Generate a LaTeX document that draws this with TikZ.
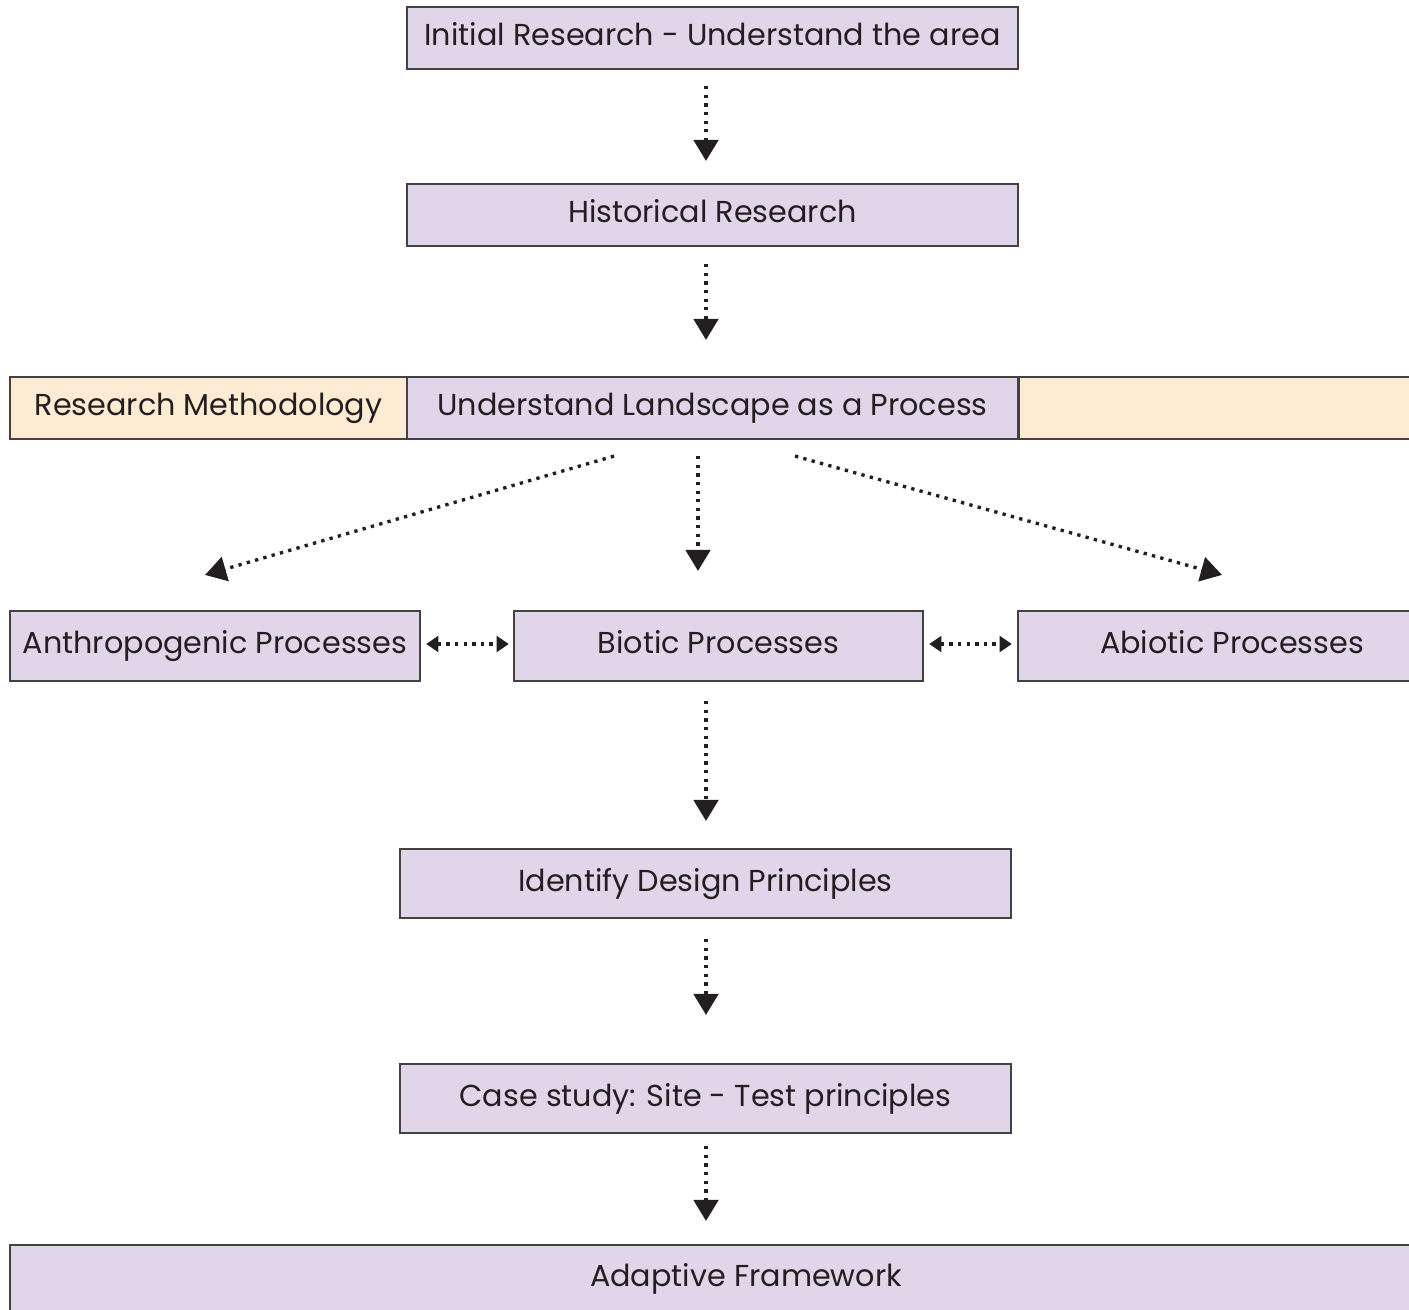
\documentclass[tikz,border=0pt]{standalone}
\usepackage{fontspec}
\setmainfont{Poppins}
\usetikzlibrary{arrows.meta,calc}
\definecolor{lilac}{RGB}{224,213,233}
\definecolor{sand}{RGB}{253,235,211}
\definecolor{ink}{RGB}{35,31,32}

\begin{document}
\begin{tikzpicture}[x=0.01cm,y=-0.01cm,
    box/.style={draw=ink!85, line width=0.6pt, fill=lilac, text=ink,
        minimum width=6.11cm, minimum height=0.62cm, inner sep=0pt,
        text height=0.45em, text depth=0pt,
        font=\fontsize{8.6}{11}\selectfont},
    side/.style={box, fill=sand},
    flow/.style={ink, line width=0.95pt, dash pattern=on 0.95pt off 1.5pt,
        -{Triangle[width=7pt,length=6pt]}},
    both/.style={flow, {Triangle[width=4.5pt,length=3.5pt]}-{Triangle[width=4.5pt,length=3.5pt]}}
]
    \useasboundingbox (0,0) rectangle (1409,1309);
    \clip (0,0) rectangle (1409,1309);

    % First steps
    \node[box] (init) at (712.5,38) {Initial Research - Understand the area};
    \node[box] (hist) at (712.5,215) {Historical Research};

    % Methodology band
    \node[box] (land) at (712.5,408) {Understand Landscape as a Process};
    \node[side, minimum width=3.97cm] (meth) at (208.5,408) {Research Methodology};
    \node[side, minimum width=4.9cm, anchor=west] (band) at (1018,408) {};

    % Processes
    \node[box, minimum width=4.10cm, minimum height=0.70cm] (anth) at (215,646) {Anthropogenic Processes};
    \node[box, minimum width=4.09cm, minimum height=0.70cm] (biot) at (718.5,646) {Biotic Processes};
    \node[box, minimum width=4.28cm, minimum height=0.70cm] (abio) at (1232,646) {Abiotic Processes};

    % Last steps
    \node[box, minimum height=0.69cm] (iden) at (705.5,883.5) {Identify Design Principles};
    \node[box, minimum height=0.69cm] (case) at (705.5,1098.5) {Case study: Site - Test principles};
    \node[box, minimum width=14.72cm, minimum height=0.68cm] (adap) at (746,1279) {Adaptive Framework};

    % Arrows
    \draw[flow] ($(init.south)+(-6.5,16)$) -- ($(hist.north)+(-6.5,-22)$);
    \draw[flow] ($(hist.south)+(-6.5,17)$) -- ($(land.north)+(-6.5,-36)$);
    \draw[flow] ($(land.south)+(-98.5,16)$) -- ($(anth.north)+(-10,-35)$);
    \draw[flow] ($(land.south)+(-14.5,16)$) -- ($(biot.north)+(-20.5,-39)$);
    \draw[flow] ($(land.south)+(82.5,16)$) -- ($(abio.north)+(-10,-35)$);
    \draw[both] ($(anth.east)+(5,-2)$) -- ($(biot.west)+(-4,-2)$);
    \draw[both] ($(biot.east)+(5,-2)$) -- ($(abio.west)+(-5,-2)$);
    \draw[flow] ($(biot.south)+(-12.5,19)$) -- ($(iden.north)+(0.5,-27)$);
    \draw[flow] ($(iden.south)+(0.5,20)$) -- ($(case.north)+(0.5,-48)$);
    \draw[flow] ($(case.south)+(0.5,12)$) -- ($(adap.north)+(-40,-23)$);
\end{tikzpicture}
\end{document}
